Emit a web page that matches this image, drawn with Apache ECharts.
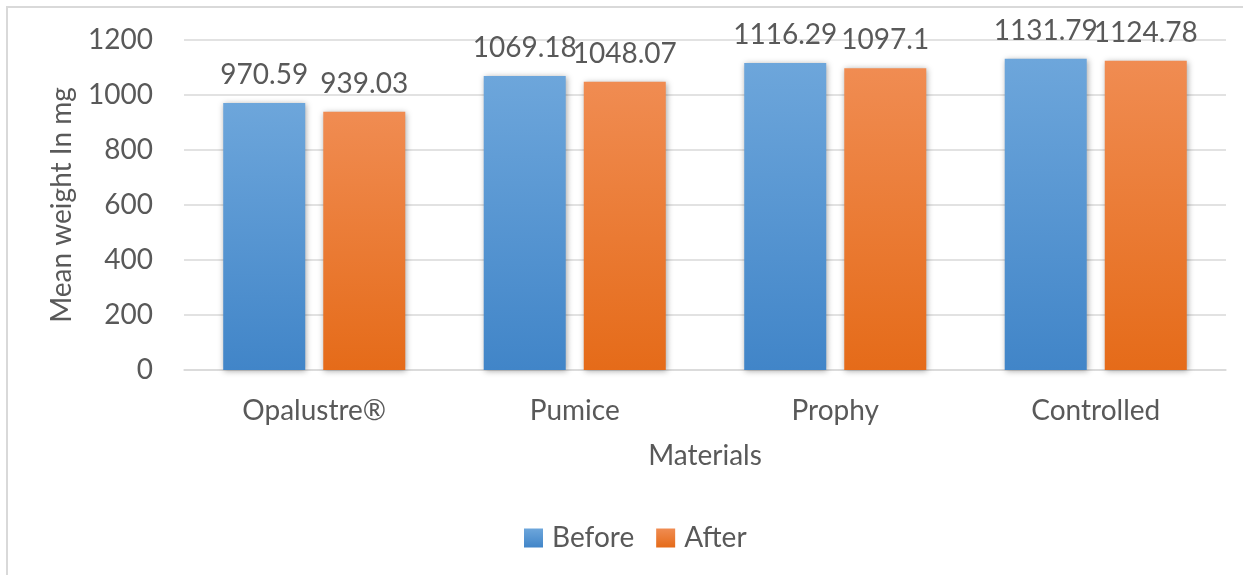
<!DOCTYPE html>
<html>
<head>
<meta charset="utf-8">
<script src="https://cdn.jsdelivr.net/npm/echarts@6/dist/echarts.min.js"></script>
<style>
  html, body { margin: 0; padding: 0; background: #ffffff; }
  #chart { width: 1243px; height: 575px; }
</style>
</head>
<body>
<div id="chart"></div>
<script>
// Materials tested and mean specimen weight (mg) before and after treatment
const materials = ['Opalustre®', 'Pumice', 'Prophy', 'Controlled'];
const beforeWeights = [970.59, 1069.18, 1116.29, 1131.79];
const afterWeights = [939.03, 1048.07, 1097.1, 1124.78];
const yTicks = { min: 0, max: 1200, step: 200 };

const FONT = 'Lato, "Noto Sans", sans-serif';
const FS = 28;
const TEXT = '#595959';
const GRID = '#d9d9d9';

function grad(top, bottom) {
  return new echarts.graphic.LinearGradient(0, 0, 0, 1, [
    { offset: 0, color: top },
    { offset: 1, color: bottom }
  ]);
}

const labelStyle = {
  show: true,
  position: 'top',
  distance: 14,
  fontFamily: FONT,
  fontSize: FS,
  color: TEXT
};

const chart = echarts.init(document.getElementById('chart'), null, { renderer: 'canvas' });
chart.setOption({
  backgroundColor: '#ffffff',
  animation: false,
  textStyle: { fontFamily: FONT, color: TEXT },
  graphic: [{
    type: 'rect',
    shape: { x: 7, y: 7, width: 1400, height: 700 },
    style: { fill: null, stroke: GRID, lineWidth: 2 },
    silent: true,
    z: -1
  }],
  grid: { left: 184, right: 17, top: 40, bottom: 205 },
  legend: {
    left: 519,
    top: 519,
    itemWidth: 19,
    itemHeight: 19,
    itemGap: 22,
    icon: 'rect',
    textStyle: { fontFamily: FONT, fontSize: FS, color: TEXT, padding: [0, 0, 0, 4] },
    data: ['Before', 'After']
  },
  xAxis: {
    type: 'category',
    data: materials,
    name: 'Materials',
    nameLocation: 'middle',
    nameGap: 72,
    nameTextStyle: { fontFamily: FONT, fontSize: FS, color: TEXT },
    axisLine: { lineStyle: { color: GRID, width: 1.5 } },
    axisTick: { show: false },
    axisLabel: { fontFamily: FONT, fontSize: FS, color: TEXT, margin: 27 }
  },
  yAxis: {
    type: 'value',
    min: yTicks.min,
    max: yTicks.max,
    interval: yTicks.step,
    name: 'Mean weight In mg',
    nameLocation: 'middle',
    nameGap: 108,
    nameTextStyle: { fontFamily: FONT, fontSize: FS, color: TEXT },
    axisLine: { show: false },
    axisTick: { show: false },
    splitLine: { lineStyle: { color: GRID, width: 1.5 } },
    axisLabel: {
      fontFamily: FONT, fontSize: FS, color: TEXT, margin: 31,
      formatter: v => String(v)
    }
  },
  series: [
    {
      name: 'Before',
      type: 'bar',
      data: beforeWeights,
      barWidth: 82,
      barGap: '22%',
      itemStyle: {
        color: grad('#6da6db', '#4185c8'),
        shadowColor: 'rgba(0,0,0,0.35)',
        shadowBlur: 6,
        shadowOffsetX: 1,
        shadowOffsetY: 1
      },
      label: labelStyle
    },
    {
      name: 'After',
      type: 'bar',
      data: afterWeights,
      barWidth: 82,
      itemStyle: {
        color: grad('#f08c52', '#e56b19'),
        shadowColor: 'rgba(0,0,0,0.35)',
        shadowBlur: 6,
        shadowOffsetX: 1,
        shadowOffsetY: 1
      },
      label: labelStyle
    }
  ]
});
</script>
</body>
</html>
